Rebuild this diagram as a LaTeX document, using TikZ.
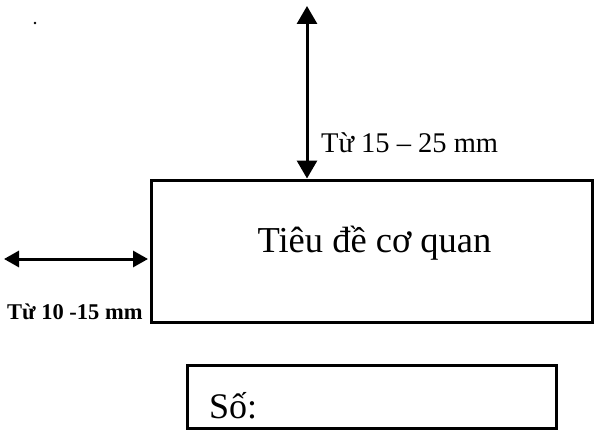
\documentclass[tikz,border=0pt]{standalone}
\usepackage{fontspec}
\setmainfont{Liberation Serif}
\usetikzlibrary{arrows.meta}
\begin{document}
\begin{tikzpicture}[x=1pt,y=-1pt,
  boxstyle/.style={draw,line width=3pt,rectangle,inner sep=0pt},
  dimarrow/.style={line width=3pt,{Triangle[width=20pt,length=18pt]}-{Triangle[width=20pt,length=18pt]}},
  dimarrowsmall/.style={line width=3pt,{Triangle[width=16pt,length=15pt]}-{Triangle[width=16pt,length=15pt]}},
  labtext/.style={font=\fontsize{28.5}{30}\selectfont,inner sep=0pt,anchor=base west},
  labsmall/.style={font=\bfseries\fontsize{22.5}{24}\selectfont,inner sep=0pt,anchor=base west}]
\useasboundingbox (0,0) rectangle (594,441);
\node[boxstyle,minimum width=441pt,minimum height=142pt] (main) at (371.5,251) {};
\node[font=\fontsize{36.5}{40}\selectfont,inner sep=0pt,anchor=base] (title) at (374.5,252) {Tiêu đề cơ quan};
\node[boxstyle,minimum width=369pt,minimum height=63pt] (so) at (372,397) {};
\node[font=\fontsize{36}{40}\selectfont,inner sep=0pt,anchor=base west] (solab) at (209,418) {Số:};
\coordinate (topend) at (307,6);
\coordinate (leftend) at (4,259);
\draw[dimarrow] (topend) -- (topend |- main.north);
\draw[dimarrowsmall] (leftend) -- ([xshift=-1.5pt]leftend -| main.west);
\node[labtext] (toplab) at (321,153) {Từ 15 – 25 mm};
\node[labsmall] (leftlab) at (7,319) {Từ 10 -15 mm};
\fill (35,23) circle (1.3pt);
\end{tikzpicture}
\end{document}
